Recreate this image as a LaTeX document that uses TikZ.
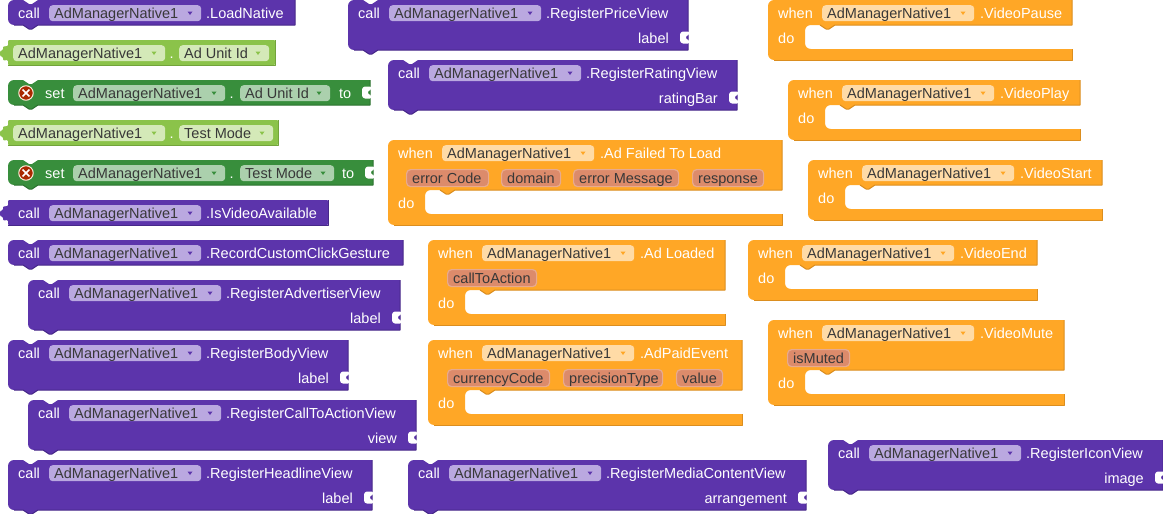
\documentclass[tikz,border=0pt]{standalone}
\usepackage{fontspec}
\setmainfont{Liberation Sans}
\definecolor{callfill}{HTML}{5C34AB}
\definecolor{calldark}{HTML}{472889}
\definecolor{callpill}{HTML}{BAA8E0}
\definecolor{getfill}{HTML}{8BC34A}
\definecolor{getdark}{HTML}{72A33B}
\definecolor{getpill}{HTML}{D4E9B8}
\definecolor{setfill}{HTML}{388E3C}
\definecolor{setdark}{HTML}{2C7230}
\definecolor{setpill}{HTML}{ABD0AD}
\definecolor{whenfill}{HTML}{FFA726}
\definecolor{whendark}{HTML}{DB8E1F}
\definecolor{whenpill}{HTML}{FFDBA6}
\definecolor{argfill}{HTML}{DC8B6B}
\definecolor{argline}{HTML}{E8AA8E}
\tikzset{
  every picture/.style={line join=round, line cap=butt},
  blocktext/.style={font=\fontsize{14.5}{16}\selectfont, text=white, inner sep=0pt, anchor=base west},
  fieldtext/.style={blocktext, text=black!78},
  fieldbox/.style={rounded corners=3.5pt, inner sep=0pt, minimum height=16pt, anchor=north west},
  argbox/.style={rounded corners=4pt, inner sep=0pt, minimum height=17pt, anchor=north west, fill=argfill, draw=argline, line width=1.2pt},
  warnmark/.style={circle, inner sep=0pt, minimum size=14.5pt, fill=black!10!red!55!orange!70!black, draw=white!85!orange, line width=1pt},
}
\newcommand{\stackshape}[4]{%
  \fill[#1] (0,6) .. controls (0,2.7) and (2.7,0) .. (6,0) -- (15,0) -- (21,4) -- (24,4) -- (30,0) -- (#3,0) -- (#3,#4) -- (30,#4) -- (24,#4+4) -- (21,#4+4) -- (15,#4) -- (6,#4) .. controls (2.7,#4) and (0,#4-2.7) .. (0,#4-6) -- cycle;
  \draw[#2,line width=1pt] (#3,0) -- (#3,#4) -- (30,#4) -- (24,#4+4) -- (21,#4+4) -- (15,#4) -- (6,#4);
}
\newcommand{\plugshape}[4]{%
  \fill[#1,rounded corners=1pt] (8,0) -- (#3,0) -- (#3,#4) -- (8,#4) -- (8,20) -- (3,20.5) -- (3,17) -- (0,16) -- (0,11) -- (3,10) -- (3,6.5) -- (8,6) -- cycle;
  \draw[#2,line width=1pt] (#3,0) -- (#3,#4) -- (8,#4);
}
\newcommand{\socketcut}[2]{%
  \fill[white,rounded corners=1pt] (#1+1,#2-6) -- (#1-6,#2-6) -- (#1-8,#2-4) -- (#1-8,#2+4) -- (#1-6,#2+6) -- (#1+1,#2+6) -- (#1+1,#2+2.5) -- (#1-2,#2+1.5) -- (#1-2,#2-1.5) -- (#1+1,#2-2.5) -- cycle;
}
\newcommand{\fieldpill}[7]{%
  \node[fieldbox,fill=#6,minimum width=#4pt] (#1) at (#2,#3) {};
  \node[fieldtext] (#1-text) at (#2+5,#3+13) {#5};
  \fill[#7] (#2+#4-13.5,#3+6.5) -- (#2+#4-8.5,#3+6.5) -- (#2+#4-11,#3+10) -- cycle;
}
\newcommand{\callhead}[2]{%
  \node[blocktext] (#1-call) at (10,18) {call};
  \fieldpill{#1-obj}{41}{5}{152}{AdManagerNative1}{callpill}{callfill}
  \node[blocktext] (#1-method) at (198,18) {#2};
}
\newcommand{\callblock}[5]{%
  \begin{scope}[shift={(#2,#3)}]
    \stackshape{callfill}{calldark}{#4}{25}
    \callhead{#1}{#5}
  \end{scope}
}
\newcommand{\callinput}[6]{%
  \begin{scope}[shift={(#2,#3)}]
    \stackshape{callfill}{calldark}{#4}{50}
    \callhead{#1}{#5}
    \node[blocktext,anchor=base east] (#1-input) at (#4-19,43) {#6};
    \socketcut{#4}{37.5}
  \end{scope}
}
\newcommand{\getblock}[5]{%
  \begin{scope}[shift={(0,#2)}]
    \plugshape{getfill}{getdark}{#3}{25}
    \fieldpill{#1-obj}{13}{5}{152}{AdManagerNative1}{getpill}{getfill}
    \node[blocktext] (#1-dot) at (169.5,18) {.};
    \fieldpill{#1-prop}{179}{5}{#5}{#4}{getpill}{getfill}
  \end{scope}
}
\newcommand{\setblock}[5]{%
  \begin{scope}[shift={(8,#2)}]
    \stackshape{setfill}{setdark}{#3}{25}
    \node[warnmark] (#1-warn) at (18,13) {};
    \draw[white,line width=1.7pt] (#1-warn.center) ++(-3.4,-3.4) -- ++(6.8,6.8) ++(-6.8,0) -- ++(6.8,-6.8);
    \node[blocktext] (#1-set) at (37,18) {set};
    \fieldpill{#1-obj}{65}{5}{152}{AdManagerNative1}{setpill}{setfill}
    \node[blocktext] (#1-dot) at (221.5,18) {.};
    \fieldpill{#1-prop}{232}{5}{#5}{#4}{setpill}{setfill}
    \node[blocktext] (#1-to) at (#3-31,18) {to};
    \socketcut{#3}{12.5}
  \end{scope}
}
\newcommand{\eventblock}[6]{%
  \begin{scope}[shift={(#2,#3)}]
    \fill[whenfill] (0,6) .. controls (0,2.7) and (2.7,0) .. (6,0) -- (#4,0) -- (#4,#5-35) -- (67,#5-35) -- (61,#5-31) -- (58,#5-31) -- (52,#5-35) -- (43,#5-35) .. controls (39.5,#5-35) and (37,#5-32.5) .. (37,#5-29) -- (37,#5-17) .. controls (37,#5-13.5) and (39.5,#5-11) .. (43,#5-11) -- (#4,#5-11) -- (#4,#5) -- (6,#5) .. controls (2.7,#5) and (0,#5-2.7) .. (0,#5-6) -- cycle;
    \draw[whendark,line width=1pt] (#4,0) -- (#4,#5-35) -- (67,#5-35) -- (61,#5-31) -- (58,#5-31) -- (52,#5-35);
    \draw[whendark,line width=1pt] (#4,#5-11) -- (#4,#5) -- (6,#5);
    \node[blocktext] (#1-when) at (10,18) {when};
    \fieldpill{#1-obj}{54}{5}{152}{AdManagerNative1}{whenpill}{whenfill}
    \node[blocktext] (#1-method) at (212,18) {#6};
    \node[blocktext] (#1-do) at (10,#5-17) {do};
  \end{scope}
}
\newcommand{\argpill}[5]{%
  \node[argbox,minimum width=#4pt] (#1) at (#2,#3) {};
  \node[fieldtext] (#1-text) at (#2+6,#3+14) {#5};
}
\begin{document}
\begin{tikzpicture}[x=1pt,y=-1pt]
\useasboundingbox (0,0) rectangle (1163,514);
\callblock{loadnative}{8}{0}{287}{.LoadNative}
\getblock{getunit}{40}{275}{Ad Unit Id}{90}
\setblock{setunit}{80}{362}{Ad Unit Id}{90}
\getblock{getmode}{120}{278}{Test Mode}{94}
\setblock{setmode}{160}{365}{Test Mode}{94}
\begin{scope}[shift={(0,200)}]
  \plugshape{callfill}{calldark}{328}{25}
  \node[blocktext] (available-call) at (18,18) {call};
  \fieldpill{available-obj}{49}{5}{152}{AdManagerNative1}{callpill}{callfill}
  \node[blocktext] (available-method) at (206,18) {.IsVideoAvailable};
\end{scope}
\callblock{gesture}{8}{240}{395}{.RecordCustomClickGesture}
\callinput{advertiser}{28}{280}{372}{.RegisterAdvertiserView}{label}
\callinput{bodyview}{8}{340}{340}{.RegisterBodyView}{label}
\callinput{calltoaction}{28}{400}{388}{.RegisterCallToActionView}{view}
\callinput{headline}{8}{460}{364}{.RegisterHeadlineView}{label}
\callinput{price}{348}{0}{340}{.RegisterPriceView}{label}
\callinput{rating}{388}{60}{349}{.RegisterRatingView}{ratingBar}
\eventblock{failed}{388}{140}{394}{85}{.Ad Failed To Load}
\argpill{failed-code}{406}{169}{82}{error Code}
\argpill{failed-domain}{501}{169}{59}{domain}
\argpill{failed-message}{573}{169}{105}{error Message}
\argpill{failed-response}{692}{169}{71}{response}
\eventblock{loaded}{428}{240}{297}{85}{.Ad Loaded}
\argpill{loaded-action}{447}{269}{89}{callToAction}
\eventblock{paid}{428}{340}{314}{85}{.AdPaidEvent}
\argpill{paid-currency}{447}{369}{102}{currencyCode}
\argpill{paid-precision}{563}{369}{99}{precisionType}
\argpill{paid-value}{676}{369}{46}{value}
\callinput{media}{408}{460}{398}{.RegisterMediaContentView}{arrangement}
\eventblock{pause}{768}{0}{304}{60}{.VideoPause}
\eventblock{play}{788}{80}{292}{60}{.VideoPlay}
\eventblock{start}{808}{160}{294}{60}{.VideoStart}
\eventblock{stop}{748}{240}{289}{60}{.VideoEnd}
\eventblock{mute}{768}{320}{296}{85}{.VideoMute}
\argpill{mute-flag}{787}{349}{62}{isMuted}
\callinput{icon}{828}{440}{335}{.RegisterIconView}{image}
\end{tikzpicture}
\end{document}
